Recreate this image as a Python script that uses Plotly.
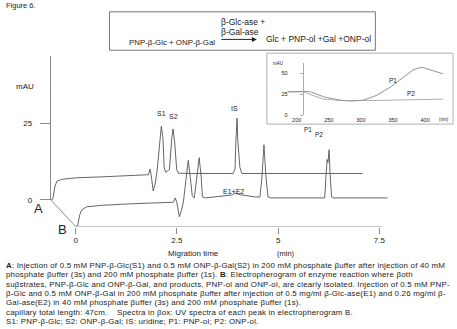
import plotly.graph_objects as go

W, H = 457, 329

# Electropherogram A: standards (migration time in min, absorbance in mAU)
time_a = [0.00, 0.05, 0.10, 0.15, 0.27, 0.64, 1.25, 1.99, 2.41, 2.45, 2.48, 2.53, 2.58, 2.63,
          2.69, 2.73, 2.77, 2.80, 2.84, 2.93, 2.99, 3.02, 3.06, 3.11, 3.15, 3.47, 4.50, 4.55,
          4.57, 4.60, 4.62, 4.65, 4.67, 4.72, 7.70]
mau_a = [0.0, 0.3, 4.2, 6.1, 6.7, 7.2, 7.5, 8.0, 8.2, 10.0, 8.0, 2.9, 5.4, 10.0,
         20.2, 24.0, 20.2, 10.6, 9.0, 9.9, 20.2, 23.1, 18.6, 9.9, 8.7, 8.6, 8.6, 10.0,
         18.6, 26.6, 19.2, 14.0, 10.6, 8.6, 8.6]

# Electropherogram B: enzyme reaction
time_b = [0.00, 0.05, 0.10, 0.15, 0.27, 0.64, 1.38, 2.41, 2.46, 2.50, 2.56, 2.61, 2.66, 2.73,
          2.78, 2.83, 2.88, 2.93, 3.00, 3.05, 3.10, 3.13, 3.20, 3.71, 3.88, 3.91, 4.08, 4.45,
          4.55, 4.60, 4.65, 4.70, 4.75, 4.82, 6.15, 6.18, 6.21, 6.23, 6.26, 6.28, 6.32, 6.37, 7.70]
mau_b = [0.0, 0.3, 3.8, 5.4, 6.4, 6.9, 7.4, 7.9, 9.3, 7.7, 3.2, 5.1, 8.0, 16.0,
         21.5, 16.0, 9.9, 9.3, 16.0, 22.4, 16.0, 9.6, 9.3, 9.9, 10.3, 10.9, 10.3, 9.6,
         9.6, 16.0, 26.6, 16.0, 9.6, 9.3, 9.3, 16.0, 21.8, 20.8, 25.0, 17.6, 9.6, 9.3, 9.3]

# UV spectra of the product peaks (wavelength in nm, absorbance in mAU)
wl_p1 = [186, 211, 222, 242, 268, 284, 304, 325, 346, 366, 382, 395, 408, 428]
abs_p1 = [27.9, 28.6, 27.9, 22.0, 18.0, 16.9, 18.0, 23.9, 33.7, 45.5, 54.5, 57.3, 54.5, 49.4]
wl_p2 = [186, 211, 224, 242, 268, 294, 320, 372, 428]
abs_p2 = [27.9, 27.9, 23.9, 19.2, 17.6, 17.3, 17.6, 18.4, 19.2]

time_ticks = [0, 2.5, 5, 7.5]
time_ticktext = ["0", "2.5", "5", "7.5"]
mau_ticks = [0, 25]
wl_ticks = [200, 250, 300, 350, 400]
spec_ticks = [0, 25, 50]

FONT = "Liberation Sans, Arial, sans-serif"
TXT = "#222222"
AX = "#8a8a8a"
TRACE = "#555555"


def fx(p):
    return p / W


def fy(p):
    return 1 - p / H


# pixel scales of the electropherogram frames
PX_MIN = 40.67
PX_MAU = 3.12
B_ORIGIN = (74, 230)
A_ORIGIN = (49, 203)
T_MAX = 7.75
AXIS_END = 7.57

fig = go.Figure()
fig.add_trace(go.Scatter(x=time_b, y=mau_b, mode="lines", xaxis="x", yaxis="y",
                         line=dict(color=TRACE, width=0.9), showlegend=False))
fig.add_trace(go.Scatter(x=time_a, y=mau_a, mode="lines", xaxis="x2", yaxis="y2",
                         line=dict(color=TRACE, width=0.9), showlegend=False))
fig.add_trace(go.Scatter(x=wl_p1, y=abs_p1, mode="lines", xaxis="x3", yaxis="y3",
                         line=dict(color="#777777", width=0.8), showlegend=False))
fig.add_trace(go.Scatter(x=wl_p2, y=abs_p2, mode="lines", xaxis="x3", yaxis="y3",
                         line=dict(color="#999999", width=0.8), showlegend=False))

b_top = 60
a_top = 57
layout = dict(
    width=W, height=H, margin=dict(l=0, r=0, t=0, b=0),
    paper_bgcolor="white", plot_bgcolor="rgba(0,0,0,0)",
    font=dict(family=FONT, color=TXT, size=8),
    xaxis=dict(domain=[fx(B_ORIGIN[0]), fx(B_ORIGIN[0] + T_MAX * PX_MIN)], range=[0, T_MAX],
               anchor="y", showline=False, showgrid=False, zeroline=False,
               ticks="outside", ticklen=6, tickcolor=AX, tickwidth=1,
               tickvals=time_ticks, ticktext=time_ticktext, tickfont=dict(size=8)),
    yaxis=dict(domain=[fy(B_ORIGIN[1]), fy(b_top)], range=[0, (B_ORIGIN[1] - b_top) / PX_MAU],
               anchor="x", visible=False),
    xaxis2=dict(domain=[fx(A_ORIGIN[0]), fx(A_ORIGIN[0] + T_MAX * PX_MIN)], range=[0, T_MAX],
                anchor="y2", visible=False),
    yaxis2=dict(domain=[fy(A_ORIGIN[1]), fy(a_top)], range=[0, (A_ORIGIN[1] - a_top) / PX_MAU],
                anchor="x2", showline=True, linecolor=AX, linewidth=1, showgrid=False,
                zeroline=False, ticks="outside", ticklen=10, tickcolor=AX,
                tickvals=mau_ticks, ticktext=["0", "25"], tickfont=dict(size=8),
                ticklabelstandoff=6),
    xaxis3=dict(domain=[fx(284), fx(446)], range=[181.4, 432.6], anchor="y3",
                showline=False, showgrid=False, zeroline=False, ticks="",
                tickvals=wl_ticks, tickfont=dict(size=5.5), ticklabelstandoff=0),
    yaxis3=dict(domain=[fy(117), fy(64)], range=[0, 53 / 0.85], anchor="free",
                position=fx(302), showline=True, linecolor="#aaaaaa", linewidth=1,
                showgrid=False, zeroline=False, ticks="outside", ticklen=3,
                tickcolor="#aaaaaa", tickvals=spec_ticks, tickfont=dict(size=5.5),
                ticklabelstandoff=11),
)
fig.update_layout(**layout)

shapes = [
    # time axis of electropherogram B
    dict(type="line", xref="x", yref="y", x0=0, x1=AXIS_END, y0=0, y1=0,
         line=dict(color=AX, width=1)),
    # oblique link between the origins of A and B
    dict(type="line", xref="paper", yref="paper",
         x0=layout["xaxis2"]["domain"][0], y0=layout["yaxis2"]["domain"][0],
         x1=layout["xaxis"]["domain"][0], y1=layout["yaxis"]["domain"][0],
         line=dict(color=AX, width=1)),
    # reaction scheme frame
    dict(type="rect", xref="paper", yref="paper", x0=fx(108), x1=fx(375), y0=fy(51), y1=fy(12),
         line=dict(color="#777777", width=1)),
    # spectra frame
    dict(type="rect", xref="paper", yref="paper", x0=fx(266), x1=fx(453), y0=fy(126), y1=fy(54),
         line=dict(color="#b0b0b0", width=1)),
]
fig.update_layout(shapes=shapes)


def label(text, x, y, size=8, xanchor="center", color=TXT, yanchor="middle"):
    return dict(text=text, x=fx(x), y=fy(y), xref="paper", yref="paper", showarrow=False,
                xanchor=xanchor, yanchor=yanchor, align="left",
                font=dict(size=size, color=color, family=FONT))


ann = [
    label("Figure 6.", 2, 6, 7.5, "left"),
    label("PNP-β-Glc + ONP-β-Gal", 171, 43, 7.9),
    label("β-Glc-ase +", 218, 22, 8.5, "left"),
    label("β-Gal-ase", 218, 33, 8.5, "left"),
    label("Glc + PNP-ol +Gal +ONP-ol", 263, 40, 8.5, "left"),
    dict(text="", x=fx(256), y=fy(40), xref="paper", yref="paper", ax=-37, ay=0,
         showarrow=True, arrowhead=2, arrowsize=1, arrowwidth=1, arrowcolor="#222222"),
    label("mAU", 23, 88, 8),
    label("S1", 160, 115, 7),
    label("S2", 172, 118, 7),
    label("IS", 234, 110, 7),
    label("E1+E2", 233, 194, 7),
    label("P1", 307, 131, 6.5),
    label("P2", 318, 137, 6.5),
    label("A", 37, 212, 13),
    label("B", 61, 233, 13),
    label("Migration time", 192, 257, 8),
    label("(min)", 285, 257, 7.5),
    label("mAU", 277, 64, 4.5),
    label("(nm)", 444, 121, 4.5),
    label("P1", 393, 82, 6.5),
    label("P2", 411, 95, 6.5),
]

caption_lines = [
    "<b>A</b>: Injection of 0.5 mM PNP-β-Glc(S1) and 0.5 mM ONP-β-Gal(S2) in 200 mM phosphate βuffer after injection of 40 mM",
    "phosphate βuffer (3s) and 200 mM phosphate βuffer (1s). <b>B</b>: Electropherogram of enzyme reaction where βoth",
    "suβstrates, PNP-β-Glc and ONP-β-Gal, and products, PNP-ol and ONP-ol, are clearly isolated. Injection of 0.5 mM PNP-",
    "β-Glc and 0.5 mM ONP-β-Gal in 200 mM phosphate βuffer after injection of 0.5 mg/ml β-Glc-ase(E1) and 0.26 mg/ml β-",
    "Gal-ase(E2) in 40 mM phosphate βuffer (3s) and 200 mM phosphate βuffer (1s).",
    "capillary total length: 47cm.    Spectra in βox: UV spectra of each peak in electropherogram B.",
    "S1: PNP-β-Glc; S2: ONP-β-Gal; IS: uridine; P1: PNP-ol; P2: ONP-ol.",
]
# line pitch follows the base size; glyphs use the span size with a little tracking
caption_text = "<br>".join(
    '<span style="font-size:7.9px;letter-spacing:0.2px">' + s + "</span>" for s in caption_lines
)
ann.append(label(caption_text, 2, 262.5, 9.3 / 1.3, "left", yanchor="top"))

fig.update_layout(annotations=ann)
fig.write_html("out.html")
